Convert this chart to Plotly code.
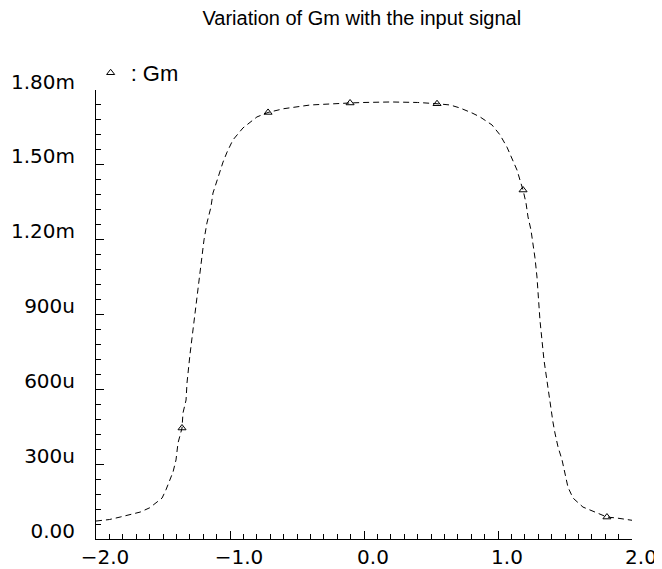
import plotly.graph_objects as go

# Input signal (V) and Gm (S)
vin = [-2.00, -1.90, -1.82, -1.67, -1.60, -1.55, -1.507, -1.478, -1.448, -1.425,
       -1.403, -1.388, -1.358, -1.351, -1.328, -1.321, -1.299, -1.276, -1.246, -1.224,
       -1.209, -1.194, -1.172, -1.142, -1.127, -1.090, -1.052, -1.022, -0.978, -0.903,
       -0.799, -0.716, -0.60, -0.40, -0.20, -0.104, 0.00, 0.20, 0.40, 0.470,
       0.545, 0.642, 0.716, 0.806, 0.866, 0.955, 1.015, 1.067, 1.104, 1.142,
       1.164, 1.187, 1.209, 1.224, 1.246, 1.261, 1.276, 1.291, 1.313, 1.343,
       1.373, 1.410, 1.425, 1.448, 1.478, 1.500, 1.522, 1.560, 1.634, 1.724,
       1.813, 1.888, 1.970, 2.00]
gm_mS = [0.072, 0.078, 0.088, 0.108, 0.125, 0.145, 0.164, 0.197, 0.237, 0.269,
         0.317, 0.385, 0.445, 0.505, 0.557, 0.625, 0.738, 0.838, 0.958, 1.066,
         1.131, 1.199, 1.267, 1.331, 1.387, 1.451, 1.511, 1.551, 1.600, 1.648,
         1.692, 1.710, 1.725, 1.740, 1.747, 1.748, 1.750, 1.752, 1.750, 1.748,
         1.745, 1.740, 1.728, 1.708, 1.692, 1.660, 1.620, 1.571, 1.527, 1.479,
         1.439, 1.399, 1.347, 1.291, 1.239, 1.187, 1.127, 1.050, 0.878, 0.718,
         0.597, 0.469, 0.425, 0.369, 0.317, 0.265, 0.208, 0.164, 0.128, 0.108,
         0.088, 0.084, 0.076, 0.075]

# Marker positions along the curve
marker_vin = [-1.358, -0.716, -0.104, 0.545, 1.187, 1.813]
marker_gm_mS = [0.445, 1.710, 1.748, 1.745, 1.399, 0.088]

x_tickvals = [-2, -1, 0, 1, 2]
x_ticktext = ["\u22122.0", "\u22121.0", "0.0", "1.0", "2.0"]
y_tickvals_mS = [0, 0.3, 0.6, 0.9, 1.2, 1.5, 1.8]
y_ticktext = ["0.00", "300u", "600u", "900u", "1.20m", "1.50m", "1.80m"]

title_text = "Variation of Gm with the input signal"
series_name = "Gm"

gm = [v * 1e-3 for v in gm_mS]
marker_gm = [v * 1e-3 for v in marker_gm_mS]
y_tickvals = [v * 1e-3 for v in y_tickvals_mS]

# The page body has an 8px default margin; size the figure so it fills the window.
W, H = 654, 561

fig = go.Figure()
fig.add_trace(go.Scatter(
    x=vin, y=gm, mode="lines", showlegend=False,
    line=dict(color="black", width=1, dash="6px,4px"),
))
fig.add_trace(go.Scatter(
    x=marker_vin, y=marker_gm, mode="markers", name=": " + series_name,
    marker=dict(symbol="triangle-up-open", size=7, color="black", line=dict(width=1, color="black")),
))

fig.update_layout(
    width=W, height=H,
    margin=dict(l=88, r=30, t=82, b=30, autoexpand=False),
    paper_bgcolor="white", plot_bgcolor="white",
    title=dict(text=title_text, x=0.541, xanchor="center", xref="container", y=0.982, yref="container",
               yanchor="middle", pad=dict(t=0, b=0, l=0, r=0),
               font=dict(family="Liberation Sans", size=20, color="black")),
    showlegend=True,
    legend=dict(x=-0.01, y=1.038, xanchor="left", yanchor="middle", xref="paper", yref="paper",
                bgcolor="rgba(0,0,0,0)", font=dict(family="Liberation Sans", size=22, color="black"),
                itemwidth=30),
    font=dict(family="Liberation Sans", color="black"),
)
fig.update_xaxes(
    range=[-2, 2], showgrid=False, zeroline=False, showline=True, linecolor="black", linewidth=1,
    automargin=False,
    tickvals=x_tickvals, ticktext=x_ticktext, ticks="inside", ticklen=8, tickcolor="black",
    tickfont=dict(family="DejaVu Sans", size=20, color="black"), ticklabelshift=9,
    minor=dict(dtick=0.1, tick0=0, ticks="inside", ticklen=5, tickcolor="black", showgrid=False),
)
fig.update_yaxes(
    range=[0, 1.8e-3], showgrid=False, zeroline=False, showline=True, linecolor="black", linewidth=1,
    automargin=False,
    tickvals=y_tickvals, ticktext=y_ticktext, ticks="inside", ticklen=8, tickcolor="black",
    tickfont=dict(family="DejaVu Sans", size=20, color="black"),
    ticklabelposition="outside top", ticklabelstandoff=16, ticklabelshift=6,
    minor=dict(dtick=0.06e-3, tick0=0, ticks="inside", ticklen=5, tickcolor="black", showgrid=False),
)

fig.write_html("out.html")
